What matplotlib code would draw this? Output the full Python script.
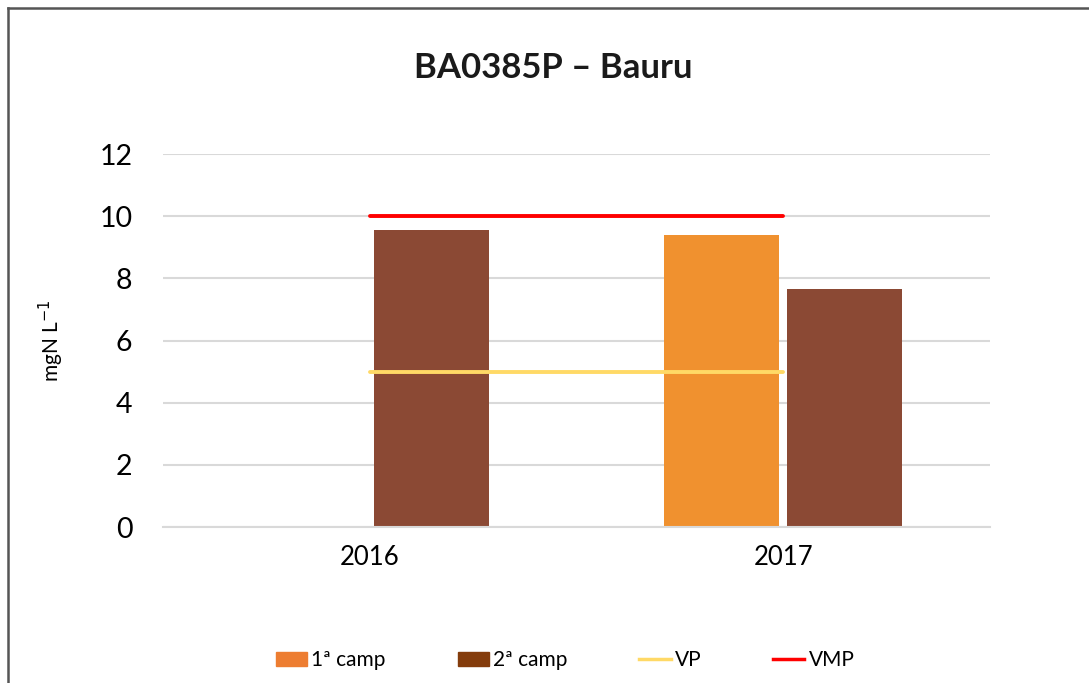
import matplotlib
matplotlib.use("Agg")
import matplotlib.pyplot as plt
from matplotlib.lines import Line2D
import numpy as np

plt.rcParams['font.family'] = ['Lato', 'DejaVu Sans']

years = ["2016", "2017"]
camp1 = [np.nan, 9.4]
camp2 = [9.55, 7.65]
vp = [5.0, 5.0]
vmp = [10.0, 10.0]
yticks = [0, 2, 4, 6, 8, 10, 12]

c1 = "#F0912F"
c2 = "#8B4934"
c_vp = "#FFD966"
c_vmp = "#FF0000"

fig = plt.figure(figsize=(10.89, 6.83), dpi=100)
ax = fig.add_axes([0.1497, 0.2284, 0.7594, 0.5461])

x = np.arange(len(years))
w = 0.278
off = 0.149
ax.bar(x - off, camp1, width=w, color=c1, zorder=2)
ax.bar(x + off, camp2, width=w, color=c2, zorder=2)
ax.plot(x, vp, color=c_vp, lw=2.8, zorder=3, solid_capstyle='round')
ax.plot(x, vmp, color=c_vmp, lw=2.8, zorder=3, solid_capstyle='round')

ax.set_xlim(-0.5, 1.5)
ax.set_ylim(0, 12)
ax.set_yticks(yticks)
ax.set_yticklabels([str(t) for t in yticks], fontsize=20.5)
ax.set_xticks(x)
ax.set_xticklabels(years, fontsize=18.5)
ax.tick_params(length=0)
ax.tick_params(axis='y', pad=22)
ax.tick_params(axis='x', pad=13)
ax.grid(axis='y', color='#D9D9D9', lw=1.5, zorder=0)
ax.set_axisbelow(True)
for s in ['top', 'right', 'left']:
    ax.spines[s].set_visible(False)
ax.spines['bottom'].set_color('#D9D9D9')
ax.spines['bottom'].set_linewidth(1.5)

ax.set_ylabel("mgN L$^{-1}$", fontsize=15, labelpad=24)

fig.text(0.508, 0.9, "BA0385P – Bauru", ha='center', va='center',
         fontsize=25, fontweight='bold', color='#1a1a1a')

handles = [
    plt.Rectangle((0, 0), 1, 1, color="#ED7D31"),
    plt.Rectangle((0, 0), 1, 1, color="#843C0C"),
    Line2D([0], [0], color=c_vp, lw=2.5),
    Line2D([0], [0], color=c_vmp, lw=2.5),
]
labels = ["1ª camp", "2ª camp", "VP", "VMP"]
fig.legend(handles, labels, loc='center', bbox_to_anchor=(0.519, 0.033),
           ncol=4, frameon=False, fontsize=15, columnspacing=3.45,
           handlelength=1.5, handletextpad=0.2, borderpad=0)

# frame
fig.add_artist(Line2D([0.0073, 1.0], [0.988, 0.988], color='#555555', lw=1.8,
                      transform=fig.transFigure))
fig.add_artist(Line2D([0.0073, 0.0073], [0.0, 0.988], color='#555555', lw=1.8,
                      transform=fig.transFigure))

fig.savefig("out.png", dpi=100)
